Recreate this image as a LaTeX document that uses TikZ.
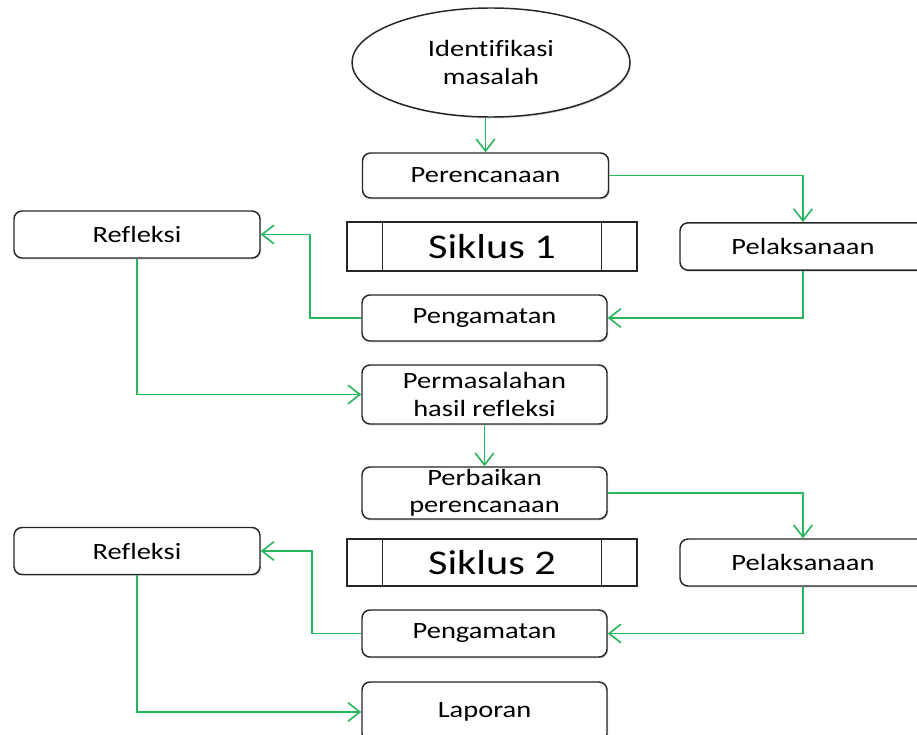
\documentclass[tikz,border=0pt]{standalone}
\usepackage{fontspec}
\setmainfont[FakeStretch=1.22,Ligatures=NoCommon]{Carlito}
\usetikzlibrary{arrows.meta,shapes.geometric,shadows}

\definecolor{flowgreen}{RGB}{40,182,92}

\tikzset{every picture/.style={line width=0.75pt}}
\tikzset{
  stepbox/.style={draw=black!85, line width=1.1pt, rounded corners=6pt, fill=white,
    minimum width=184.5pt, minimum height=34.5pt, inner sep=0pt, align=center,
    font=\fontsize{17.5}{20.5}\selectfont,
    drop shadow={shadow xshift=0.8pt, shadow yshift=-1pt, opacity=0.35}},
  siklusbox/.style={draw=black!85, line width=1.1pt, fill=white,
    minimum width=217.5pt, minimum height=36.75pt, inner sep=0pt,
    font=\fontsize{26}{30}\selectfont,
    drop shadow={shadow xshift=0.8pt, shadow yshift=-1pt, opacity=0.35}},
  startnode/.style={draw=black!85, line width=1.1pt, ellipse, fill=white,
    minimum width=208.5pt, minimum height=81.75pt, inner sep=0pt, align=center,
    font=\fontsize{17.5}{21}\selectfont,
    drop shadow={shadow xshift=0.8pt, shadow yshift=-1pt, opacity=0.35}},
  flow/.style={draw=flowgreen, line width=1.2pt, -{Straight Barb[length=9pt,width=14pt,line width=1.2pt]}}
}

\begin{document}
\begin{tikzpicture}[x=0.75pt,y=0.75pt,yscale=-1,xscale=1]
    \useasboundingbox (0,0) rectangle (917,735); %set diagram size to the reference

    %Shape: Ellipse [start]
    \node [startnode] (start) at (491,62.5) {Identifikasi\\masalah};

    % Siklus 1
    \node [stepbox, minimum height=33.75pt] (per1) at (485.5,175.5) {Perencanaan};
    \node [siklusbox] (s1) at (492,246.5) {Siklus 1};
    \draw [line width=1.1pt, black!85] ([xshift=27pt]s1.north west) -- ([xshift=27pt]s1.south west);
    \draw [line width=1.1pt, black!85] ([xshift=-27pt]s1.north east) -- ([xshift=-27pt]s1.south east);
    \node [stepbox, minimum height=35.25pt] (ref1) at (137,234.5) {Refleksi};
    \node [stepbox, minimum height=35.5pt] (pel1) at (803,246.5) {Pelaksanaan};
    \node [stepbox, minimum width=183.75pt] (pen1) at (484.5,318) {Pengamatan};
    \node [stepbox, minimum width=183.75pt, minimum height=44.25pt] (perm) at (484.5,394.5) {Permasalahan\\hasil refleksi};

    % Siklus 2
    \node [stepbox, minimum width=183.75pt, minimum height=39pt] (perb) at (484.5,493) {Perbaikan\\perencanaan};
    \node [siklusbox, minimum height=35.25pt] (s2) at (492,562.5) {Siklus 2};
    \draw [line width=1.1pt, black!85] ([xshift=27pt]s2.north west) -- ([xshift=27pt]s2.south west);
    \draw [line width=1.1pt, black!85] ([xshift=-27pt]s2.north east) -- ([xshift=-27pt]s2.south east);
    \node [stepbox, minimum height=35.25pt] (ref2) at (137,551) {Refleksi};
    \node [stepbox, minimum height=35.25pt] (pel2) at (803,562.5) {Pelaksanaan};
    \node [stepbox, minimum width=183.75pt, minimum height=35.25pt] (pen2) at (484.5,633.5) {Pengamatan};
    \node [stepbox, minimum width=183.75pt, minimum height=45pt] (lap) at (484.5,712) {Laporan};

    %Straight Lines [connectors]
    \draw [flow] (start.south -| per1.north) -- (per1.north);
    \draw [flow] (per1.east) -| (pel1.north);
    \draw [flow] (pel1.south) |- (pen1.east);
    \draw [flow] (pen1.west) -- ++(-51,0) |- (ref1.east);
    \draw [flow] (ref1.south) |- (perm.west);
    \draw [flow] (perm.south) -- (perb.north);
    \draw [flow] (perb.east) -| (pel2.north);
    \draw [flow] (pel2.south) |- (pen2.east);
    \draw [flow] (pen2.west) -- ++(-49,0) |- (ref2.east);
    \draw [flow] (ref2.south) |- (lap.west);

\end{tikzpicture}
\end{document}
